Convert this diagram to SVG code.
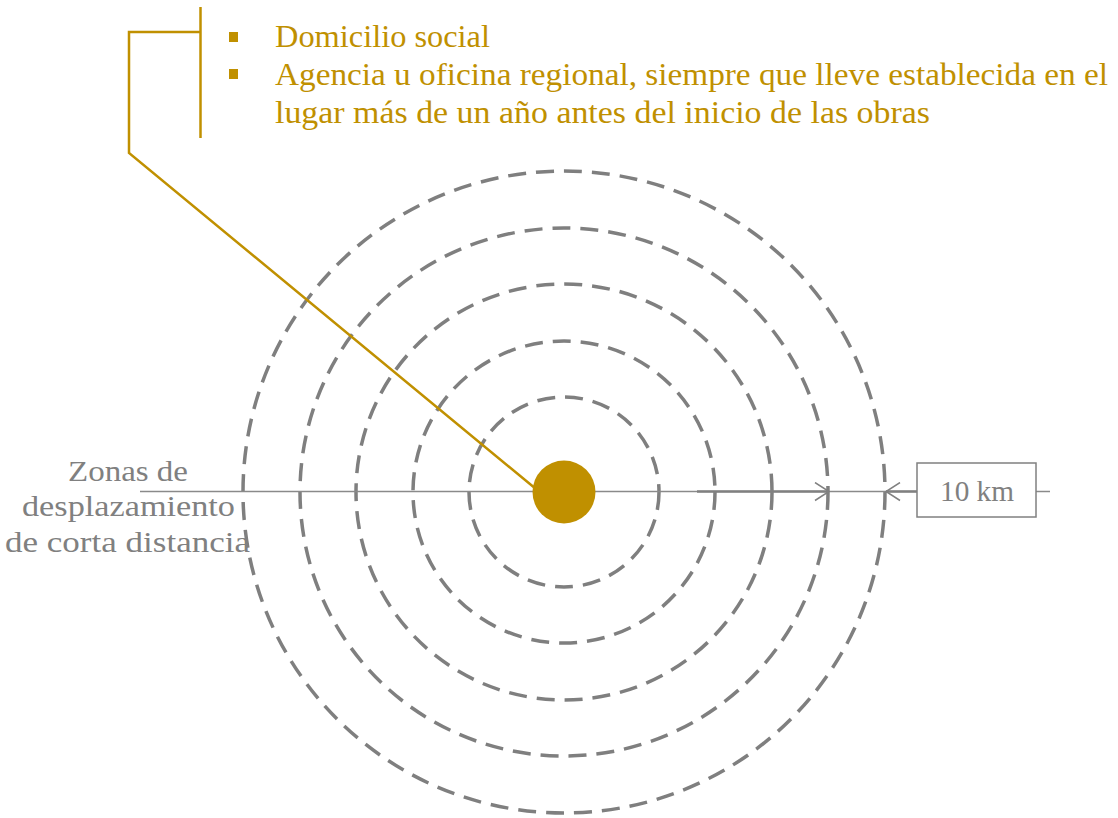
<svg xmlns="http://www.w3.org/2000/svg" width="1118" height="818" viewBox="0 0 1118 818">
<style>
.ring{fill:none;stroke:#7f7f7f;stroke-width:3.5;stroke-dasharray:18 10}
.gold{fill:none;stroke:#C09000;stroke-width:2.5}
.gt{font-family:"Liberation Serif",serif;font-size:31px;fill:#C09000}
.gr{font-family:"Liberation Serif",serif;font-size:29px;fill:#808080}
</style>
<defs>
<marker id="open" viewBox="0 0 16 20" refX="15" refY="10" markerWidth="16" markerHeight="20" markerUnits="userSpaceOnUse" orient="auto">
<path d="M1,1 L15,10 L1,19" fill="none" stroke="#808080" stroke-width="1.5"/>
</marker>
</defs>
<g id="rings">
<circle class="ring" cx="564" cy="492" r="321"/>
<circle class="ring" cx="564" cy="492" r="264"/>
<circle class="ring" cx="564" cy="492" r="208"/>
<circle class="ring" cx="564" cy="492" r="151"/>
<circle class="ring" cx="564" cy="492" r="95"/>
</g>
<g id="connectors">
<line x1="140" y1="491.5" x2="1050" y2="491.5" stroke="#8a8a8a" stroke-width="1.5"/>
<line x1="697" y1="491.5" x2="829" y2="491.5" stroke="#808080" stroke-width="2.5" marker-end="url(#open)"/>
<line x1="917" y1="491.5" x2="886" y2="491.5" stroke="#808080" stroke-width="2.5" marker-end="url(#open)"/>
<polyline class="gold" points="200.5,7 200.5,138"/>
<polyline class="gold" points="200.5,32 129,32 129,153 536,489"/>
</g>
<g id="center">
<circle cx="564" cy="492" r="31.5" fill="#C09000"/>
</g>
<g id="legend">
<rect x="229" y="32" width="9" height="10" fill="#C09000"/>
<rect x="229" y="69" width="9" height="10" fill="#C09000"/>
<text class="gt" x="275" y="47" textLength="215" lengthAdjust="spacingAndGlyphs">Domicilio social</text>
<text class="gt" x="275" y="85" textLength="833" lengthAdjust="spacingAndGlyphs">Agencia u oficina regional, siempre que lleve establecida en el</text>
<text class="gt" x="275" y="123" textLength="655" lengthAdjust="spacingAndGlyphs">lugar más de un año antes del inicio de las obras</text>
</g>
<g id="zone-label">
<text class="gr" x="68" y="481" textLength="120" lengthAdjust="spacingAndGlyphs">Zonas de</text>
<text class="gr" x="22" y="516" textLength="213" lengthAdjust="spacingAndGlyphs">desplazamiento</text>
<text class="gr" x="5" y="552" textLength="245" lengthAdjust="spacingAndGlyphs">de corta distancia</text>
</g>
<g id="km-box">
<rect x="917" y="463" width="119" height="54" fill="#fff" stroke="#808080" stroke-width="1.5"/>
<text class="gr" x="940" y="501" textLength="74" lengthAdjust="spacingAndGlyphs">10 km</text>
</g>
</svg>
